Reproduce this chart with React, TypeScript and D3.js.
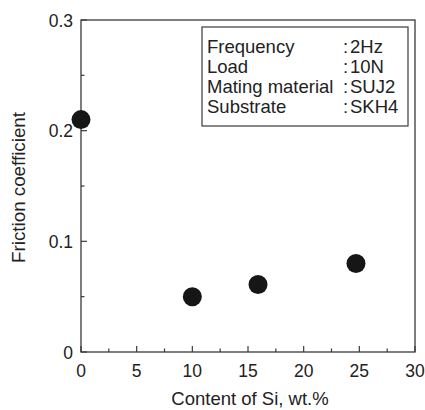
import React from "react";
import * as d3 from "d3";

const siContent = [0, 10, 15.9, 24.7];
const friction = [0.21, 0.05, 0.061, 0.08];
const xTicks = [0, 5, 10, 15, 20, 25, 30];
const xMinor = [2.5, 7.5, 12.5, 17.5, 22.5, 27.5];
const yTicks = [0, 0.1, 0.2, 0.3];
const yMinor = [0.05, 0.15, 0.25];
const yTickLabels = ["0", "0.1", "0.2", "0.3"];
const legendKeys = ["Frequency", "Load", "Mating material", "Substrate"];
const legendVals = ["2Hz", "10N", "SUJ2", "SKH4"];

const W = 425, H = 410;
const M = { left: 81, right: 10, top: 20, bottom: 58 };
const FONT = "'Liberation Sans', Arial, Helvetica, sans-serif";
const AX = "#3a3a3a";
const TXT = "#222";

export default function App() {
  const x = d3.scaleLinear().domain([0, 30]).range([M.left, W - M.right]);
  const y = d3.scaleLinear().domain([0, 0.3]).range([H - M.bottom, M.top]);
  const x0 = x(0), x1 = x(30), y0 = y(0), y1 = y(0.3);
  const lx = 202, ly = 27, lw = 206, lh = 99;
  return (
    <svg width={W} height={H} style={{ position: "absolute", left: 0, top: 0, background: "#fff" }}>
      <rect x={x0} y={y1} width={x1 - x0} height={y0 - y1} fill="none" stroke={AX} strokeWidth={1.3} />
      {xTicks.map((t) => (
        <g key={"xt" + t}>
          <line x1={x(t)} x2={x(t)} y1={y0} y2={y0 - 6} stroke={AX} strokeWidth={1.2} />
          <text x={x(t)} y={y0 + 25} textAnchor="middle" fontFamily={FONT} fontSize={17.5} fill={TXT}>{t}</text>
        </g>
      ))}
      {xMinor.map((t) => (
        <line key={"xm" + t} x1={x(t)} x2={x(t)} y1={y0} y2={y0 - 3.5} stroke={AX} strokeWidth={1.2} />
      ))}
      {yTicks.map((t, i) => (
        <g key={"yt" + t}>
          <line x1={x0} x2={x0 + 6} y1={y(t)} y2={y(t)} stroke={AX} strokeWidth={1.2} />
          <text x={x0 - 8} y={y(t) + 6.5} textAnchor="end" fontFamily={FONT} fontSize={17.5} fill={TXT}>{yTickLabels[i]}</text>
        </g>
      ))}
      {yMinor.map((t) => (
        <line key={"ym" + t} x1={x0} x2={x0 + 3.5} y1={y(t)} y2={y(t)} stroke={AX} strokeWidth={1.2} />
      ))}
      <text x={(x0 + x1) / 2 + 2} y={405} textAnchor="middle" fontFamily={FONT} fontSize={18.5} fill={TXT}>Content of Si, wt.%</text>
      <text transform={`translate(25, 187.5) rotate(-90)`} textAnchor="middle" fontFamily={FONT} fontSize={18.8} fill={TXT}>Friction coefficient</text>
      <rect x={lx} y={ly} width={lw} height={lh} fill="#fff" stroke={AX} strokeWidth={1.2} />
      {legendKeys.map((k, i) => (
        <g key={k}>
          <text x={lx + 5} y={ly + 25.5 + i * 20.3} fontFamily={FONT} fontSize={18.5} fill={TXT}>{k}</text>
          <text x={lx + 141} y={ly + 25.5 + i * 20.3} fontFamily={FONT} fontSize={18.5} fill={TXT}>:</text>
          <text x={lx + 148} y={ly + 25.5 + i * 20.3} fontFamily={FONT} fontSize={18.5} fill={TXT}>{legendVals[i]}</text>
        </g>
      ))}
      {siContent.map((s, i) => (
        <circle key={"p" + i} cx={x(s)} cy={y(friction[i])} r={9.5} fill="#161616" />
      ))}
    </svg>
  );
}
